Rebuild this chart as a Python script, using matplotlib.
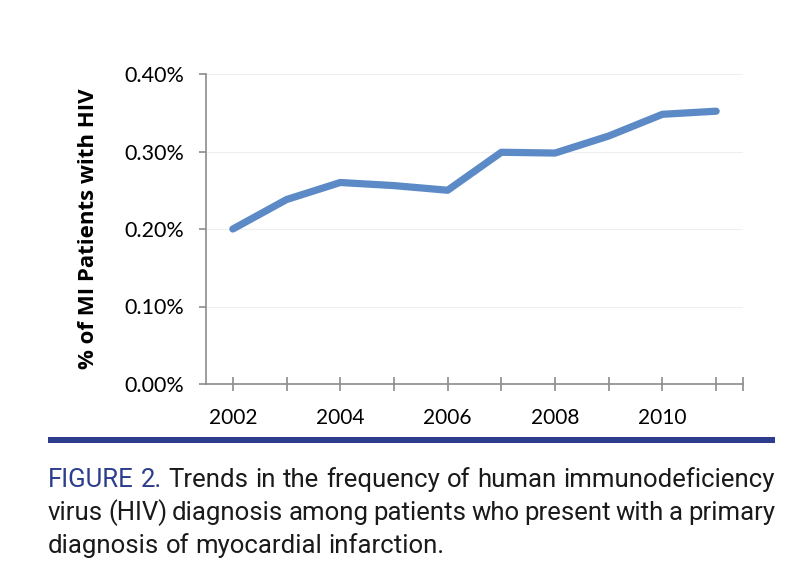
import matplotlib
matplotlib.use("Agg")
import matplotlib.pyplot as plt
from matplotlib.patches import Rectangle
from matplotlib.ticker import FuncFormatter

years = [2002, 2003, 2004, 2005, 2006, 2007, 2008, 2009, 2010, 2011]
pct_hiv = [0.200, 0.238, 0.260, 0.256, 0.250, 0.299, 0.298, 0.320, 0.348, 0.352]
year_labels = ["2002", "", "2004", "", "2006", "", "2008", "", "2010", "", ""]
y_ticks = [0.0, 0.1, 0.2, 0.3, 0.4]

caption_lines = [
    ["FIGURE", "2.", "Trends", "in", "the", "frequency", "of", "human", "immunodeficiency"],
    ["virus", "(HIV)", "diagnosis", "among", "patients", "who", "present", "with", "a", "primary"],
    ["diagnosis", "of", "myocardial", "infarction."],
]
navy = "#2c3d8c"

W, H = 792, 578
fig = plt.figure(figsize=(W / 100, H / 100), dpi=100)
ax = fig.add_axes([206 / W, 1 - 384 / H, (743 - 206) / W, (384 - 74) / H])

tick_font = ["Lato", "DejaVu Sans"]
ax.plot(years, pct_hiv, color="#5b8ac6", lw=5.2, solid_capstyle="round", solid_joinstyle="round")

ax.set_xlim(years[0] - 0.5, years[-1] + 0.5)
ax.set_ylim(0, 0.4)
ax.set_xticks(years + [years[-1] + 0.5])
ax.set_xticklabels(year_labels, fontsize=15, family=tick_font)
ax.set_yticks(y_ticks)
ax.yaxis.set_major_formatter(FuncFormatter(lambda v, p: f"{v:.2f}%"))
for lab in ax.get_yticklabels():
    lab.set_family(tick_font)
    lab.set_fontsize(15.5)
ax.set_ylabel("% of MI Patients with HIV", fontsize=16, fontweight="bold",
              family=["Open Sans", "DejaVu Sans"], labelpad=18)

ax.grid(axis="y", color="#efefef", lw=0.8)
ax.set_axisbelow(True)
for s in ["top", "right"]:
    ax.spines[s].set_visible(False)
for s in ["left", "bottom"]:
    ax.spines[s].set_color("#8c8c8c")
    ax.spines[s].set_linewidth(1.2)
ax.tick_params(axis="x", direction="inout", length=10, width=1.2, color="#8c8c8c", pad=12)
ax.tick_params(axis="y", direction="out", length=5, width=1.2, color="#8c8c8c", pad=11)

# navy rule under the chart
fig.add_artist(Rectangle((48 / W, 1 - 443 / H), (775 - 48) / W, 6 / H,
                         transform=fig.transFigure, color=navy, lw=0))

# justified caption
cap_font = ["Roboto", "DejaVu Sans"]
cap_size = 18.5
renderer = fig.canvas.get_renderer()
x0, x1 = 48, 775
baselines = [487, 520, 553]


def text_width(s):
    t = fig.text(0, 0, s, fontsize=cap_size, family=cap_font)
    w = t.get_window_extent(renderer).width
    t.remove()
    return w


sp = text_width("a a") - text_width("aa")
for i, words in enumerate(caption_lines):
    texts = []
    for j, w in enumerate(words):
        col = navy if (i == 0 and j < 2) else "#1a1a1a"
        t = fig.text(0, 1 - baselines[i] / H, w, fontsize=cap_size, family=cap_font,
                     color=col, va="baseline", ha="left")
        texts.append(t)
    widths = [t.get_window_extent(renderer).width for t in texts]
    if i < len(caption_lines) - 1:
        gap = max(sp * 0.7, (x1 - x0 - sum(widths)) / (len(words) - 1))
    else:
        gap = sp
    x = x0
    for t, w in zip(texts, widths):
        t.set_x(x / W)
        x += w + gap

fig.savefig("out.png", dpi=100)
